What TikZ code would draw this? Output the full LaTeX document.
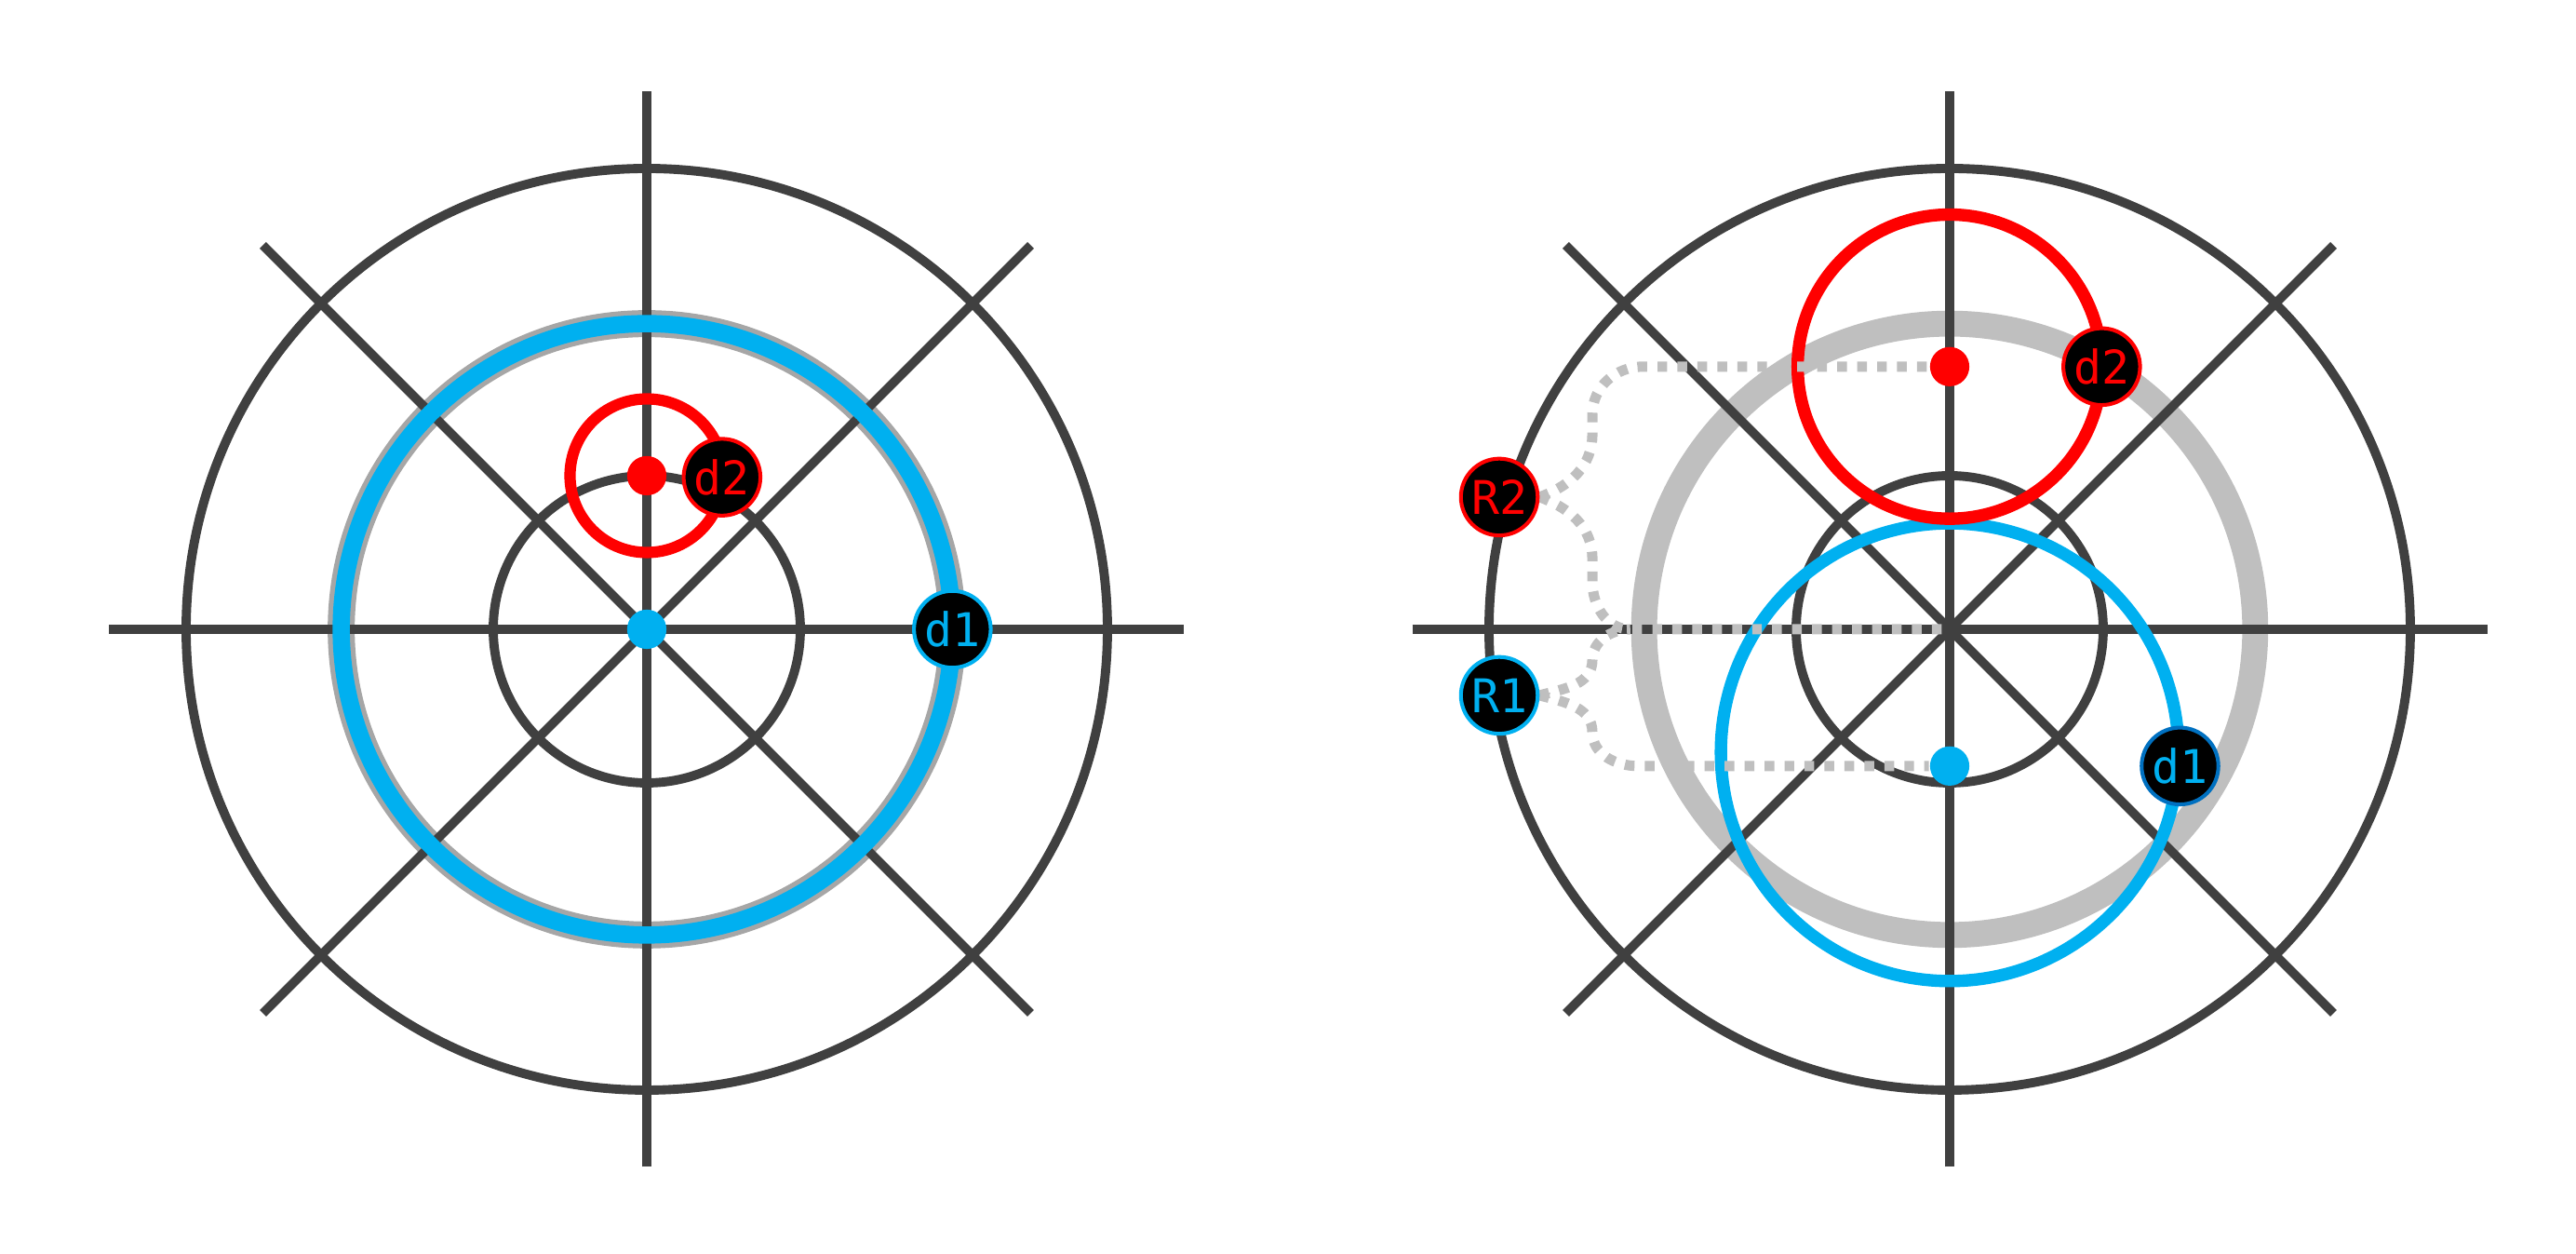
\documentclass[tikz,border=0pt]{standalone}
\usepackage{fontspec}
\newfontfamily\monofont{DejaVu Sans Mono}
\pgfdeclarelayer{fg}
\pgfsetlayers{main,fg}
\definecolor{dk}{HTML}{404040}
\definecolor{rd}{HTML}{FF0000}
\definecolor{bl}{HTML}{00B0F0}
\definecolor{dbl}{HTML}{0070C0}
\definecolor{gra}{HTML}{A6A6A6}
\definecolor{grb}{HTML}{BFBFBF}
\tikzset{
  grid/.style={draw=dk, line width=1.7pt},
  dot/.style={circle, inner sep=0pt, minimum size=0.256cm, draw=none},
  lab/.style={circle, inner sep=0pt, minimum size=0.5cm, fill=black, line width=0.7pt,
    font=\monofont\fontsize{8.6}{9}\selectfont},
  conn/.style={draw=grb, line width=1.9pt, dash pattern=on 1.8pt off 1.9pt}
}
\begin{document}
\begin{tikzpicture}
\useasboundingbox (0,0) rectangle (16.776,8.1636);
\coordinate (lc) at (4.2121,4.0667);
\coordinate (rc) at (12.697,4.0667);
% gray rings
\draw[draw=gra, line width=5.0pt] (lc) circle (1.99);
\draw[draw=grb, line width=4.8pt] (rc) circle (1.99);
% grids
\foreach \c in {lc,rc}{
  \begin{scope}[shift={(\c)}]
    \draw[grid] (0,0) circle (1);
    \draw[grid] (0,0) circle (3);
    \draw[grid] (-3.5,0) -- (3.5,0);
    \draw[grid] (0,-3.5) -- (0,3.5);
    \draw[grid] (-2.5,-2.5) -- (2.5,2.5);
    \draw[grid] (-2.5,2.5) -- (2.5,-2.5);
  \end{scope}
}
% left coloured rings
\begin{scope}[shift={(lc)}]
  \draw[draw=bl, line width=3.2pt] (0,0) circle (1.99);
  \draw[draw=rd, line width=2.1pt] (0,1) circle (0.5);
\end{scope}
% right coloured rings
\begin{scope}[shift={(rc)}]
  \draw[draw=bl, line width=2.3pt] (0,-0.8) circle (1.49);
  \draw[draw=rd, line width=2.3pt] (0,1.71) circle (0.99);
\end{scope}
% nodes on top
\begin{pgfonlayer}{fg}
\begin{scope}[shift={(lc)}]
  \node[dot, fill=bl] (lbd) at (0,0) {};
  \node[dot, fill=rd] (lrd) at (0,1) {};
  \node[lab, draw=bl, text=bl] (ld1) at (1.99,0) {d1};
  \node[lab, draw=rd, text=rd] (ld2) at (0.49,0.99) {d2};
\end{scope}
\begin{scope}[shift={(rc)}]
  \node[dot, fill=rd] (rrd) at (0,1.71) {};
  \node[dot, fill=bl] (rbd) at (0,-0.89) {};
  \node[lab, draw=rd, text=rd] (rd2) at (0.99,1.71) {d2};
  \node[lab, draw=dbl, text=bl] (rd1) at (1.5,-0.89) {d1};
  \node[lab, draw=rd, text=rd] (R2) at (-2.933,0.861) {R2};
  \node[lab, draw=bl, text=bl] (R1) at (-2.933,-0.43) {R1};
\end{scope}
\end{pgfonlayer}
% dotted connectors
\begin{scope}[shift={(rc)}]
  \coordinate (jn) at (-2.08,0);
  \draw[conn] (R2.east) to[out=20,in=-90] (-2.327,1.27) -- (-2.327,1.40)
     to[out=90,in=180] (-2.0,1.71) -- (rrd);
  \draw[conn] (R2.east) to[out=-20,in=90] (-2.327,0.46) -- (-2.327,0.31)
     to[out=-90,in=180] (jn) -- (rc);
  \draw[conn] (R1.east) to[out=15,in=-90] (-2.327,-0.20) to[out=90,in=180] (jn);
  \draw[conn] (R1.east) to[out=-15,in=90] (-2.327,-0.67)
     to[out=-90,in=180] (-2.03,-0.89) -- (rbd);
\end{scope}
\end{tikzpicture}
\end{document}
